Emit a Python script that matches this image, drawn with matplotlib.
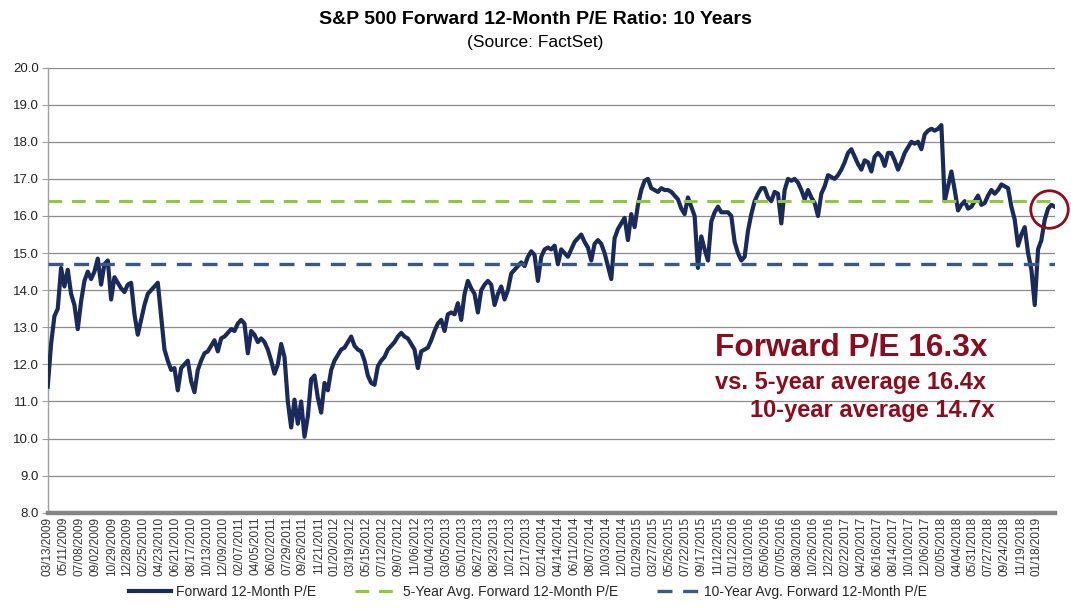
import numpy as np
import matplotlib.pyplot as plt
from matplotlib.transforms import offset_copy

plt.rcParams['font.family'] = ['Liberation Sans', 'DejaVu Sans']

# x-axis category labels, one every 40 trading days
tick_labels = [
    "03/13/2009", "05/11/2009", "07/08/2009", "09/02/2009", "10/29/2009", "12/28/2009",
    "02/25/2010", "04/23/2010", "06/21/2010", "08/17/2010", "10/13/2010", "12/09/2010",
    "02/07/2011", "04/05/2011", "06/02/2011", "07/29/2011", "09/26/2011", "11/21/2011",
    "01/20/2012", "03/19/2012", "05/15/2012", "07/12/2012", "09/07/2012", "11/06/2012",
    "01/04/2013", "03/05/2013", "05/01/2013", "06/27/2013", "08/23/2013", "10/21/2013",
    "12/17/2013", "02/14/2014", "04/14/2014", "06/11/2014", "08/07/2014", "10/03/2014",
    "12/01/2014", "01/29/2015", "03/27/2015", "05/26/2015", "07/22/2015", "09/17/2015",
    "11/12/2015", "01/12/2016", "03/10/2016", "05/06/2016", "07/05/2016", "08/30/2016",
    "10/26/2016", "12/22/2016", "02/22/2017", "04/20/2017", "06/16/2017", "08/14/2017",
    "10/10/2017", "12/06/2017", "02/05/2018", "04/04/2018", "05/31/2018", "07/27/2018",
    "09/24/2018", "11/19/2018", "01/18/2019",
]
days_per_tick = 40
n_days = 2526

avg_5yr = 16.4
avg_10yr = 14.7

# forward 12-month P/E at even steps (about 8 trading days)
pe = [
    # 2009 - 2010
    11.4, 12.55, 13.3, 13.5, 14.6, 14.1, 14.55, 13.9, 13.6, 12.95,
    13.7, 14.25, 14.5, 14.3, 14.5, 14.85, 14.15, 14.7, 14.8, 13.75,
    14.35, 14.2, 14.05, 13.95, 14.15, 14.2, 13.35, 12.8, 13.2, 13.6,
    13.9, 14.0, 14.1, 14.2, 13.3, 12.4, 12.1, 11.85, 11.9, 11.3,
    11.9, 12.0, 12.1, 11.55, 11.25, 11.85, 12.1, 12.3, 12.35, 12.5,
    12.65, 12.35, 12.7, 12.75, 12.85, 12.95, 12.9, 13.1, 13.2, 13.1,
    # 2011 - 2012
    12.3, 12.9, 12.8, 12.6, 12.7, 12.6, 12.4, 12.1, 11.75, 12.0,
    12.55, 12.2, 11.0, 10.3, 11.05, 10.4, 11.0, 10.05, 10.6, 11.6,
    11.7, 11.1, 10.7, 11.5, 11.3, 11.85, 12.1, 12.25, 12.4, 12.45,
    12.6, 12.75, 12.5, 12.4, 12.35, 12.1, 11.7, 11.5, 11.45, 11.95,
    12.1, 12.2, 12.4, 12.5, 12.6, 12.75, 12.85, 12.75, 12.7, 12.55,
    12.4, 11.9, 12.35, 12.4, 12.45, 12.65, 12.9, 13.1, 13.2, 12.9,
    # 2013 - 2014
    13.35, 13.4, 13.35, 13.65, 13.2, 13.9, 14.25, 14.05, 13.9, 13.4,
    14.0, 14.15, 14.25, 14.15, 13.6, 13.9, 14.1, 13.75, 14.0, 14.45,
    14.55, 14.65, 14.75, 14.65, 14.9, 15.05, 14.95, 14.25, 14.9, 15.1,
    15.15, 15.1, 15.2, 14.7, 15.1, 15.0, 14.9, 15.1, 15.3, 15.4,
    15.5, 15.3, 15.15, 14.8, 15.25, 15.35, 15.25, 15.0, 14.65, 14.3,
    15.4, 15.65, 15.8, 15.95, 15.35, 16.05, 15.7, 16.3, 16.7, 16.95,
    # 2015 - 2016
    17.0, 16.75, 16.7, 16.65, 16.75, 16.7, 16.7, 16.65, 16.55, 16.45,
    16.2, 16.05, 16.5, 16.25, 16.0, 14.6, 15.45, 15.1, 14.8, 15.85,
    16.1, 16.25, 16.1, 16.1, 16.1, 16.0, 15.3, 15.0, 14.8, 14.9,
    15.6, 16.05, 16.4, 16.6, 16.75, 16.75, 16.5, 16.4, 16.65, 16.6,
    15.8, 16.7, 17.0, 16.95, 17.0, 16.9, 16.7, 16.45, 16.7, 16.5,
    16.35, 16.0, 16.6, 16.8, 17.1, 17.05, 17.0, 17.1, 17.25, 17.45,
    # 2017 - 2019
    17.7, 17.8, 17.6, 17.4, 17.25, 17.5, 17.45, 17.2, 17.6, 17.7,
    17.6, 17.35, 17.7, 17.7, 17.5, 17.25, 17.45, 17.7, 17.85, 18.0,
    17.95, 18.0, 17.8, 18.2, 18.3, 18.35, 18.3, 18.35, 18.45, 16.4,
    16.8, 17.2, 16.7, 16.15, 16.3, 16.4, 16.2, 16.25, 16.4, 16.55,
    16.3, 16.35, 16.55, 16.7, 16.6, 16.7, 16.85, 16.8, 16.75, 16.25,
    15.9, 15.2, 15.5, 15.7, 15.0, 14.55, 13.6, 15.1, 15.35, 15.9,
    16.2, 16.3, 16.25,
]

navy = "#1A2A5A"
green = "#92C83E"
blue = "#375A8C"
maroon = "#8B0D1F"
grid_gray = "#8C8C8C"

fig = plt.figure(figsize=(10.71, 6.09), dpi=100)
ax = fig.add_axes([0.0444, 0.158, 0.9406, 0.731])

x = np.linspace(0, n_days - 1, len(pe))
ax.plot(x, pe, color=navy, lw=3.0, label="Forward 12-Month P/E", zorder=3)
ax.axhline(avg_5yr, color=green, lw=2.2, dashes=(4.5, 3.2),
           label="5-Year Avg. Forward 12-Month P/E", zorder=4)
ax.axhline(avg_10yr, color=blue, lw=2.4, dashes=(4.5, 3.2),
           label="10-Year Avg. Forward 12-Month P/E", zorder=4)

ax.set_xlim(-0.5, n_days - 0.5)
ax.set_ylim(8, 20)
ax.set_yticks(np.arange(8, 20.5, 1))
ax.set_yticklabels([f"{v:.1f}" for v in np.arange(8, 20.5, 1)])
ax.set_xticks(np.arange(len(tick_labels)) * days_per_tick)
ax.set_xticklabels(tick_labels, rotation=90, fontsize=8.5, color="#333333")

ax.grid(axis="y", color=grid_gray, lw=0.9)
ax.set_axisbelow(True)
for s in ["top", "right"]:
    ax.spines[s].set_visible(False)
ax.spines["left"].set_color("#A0A0A0")
ax.spines["left"].set_linewidth(1)
ax.spines["bottom"].set_color("#858585")
ax.spines["bottom"].set_linewidth(3.2)
ax.spines["bottom"].set_zorder(5)
ax.tick_params(axis="y", length=4, width=0.8, color="#A0A0A0", pad=2,
               labelsize=9.5, labelcolor="#222222")
ax.tick_params(axis="x", length=0, pad=3)

# highlight the latest reading
circ = offset_copy(ax.transData, fig=fig, x=-6, y=-2, units="dots")
ax.plot(x[-1], pe[-1], marker="o", ms=27, mfc="none", mec=maroon, mew=2,
        transform=circ, zorder=6, clip_on=False)

fig.text(0.4995, 1 - 19 / 609, "S&P 500 Forward 12-Month P/E Ratio: 10 Years",
         ha="center", va="center", fontsize=14, fontweight="bold")
fig.text(0.4995, 1 - 42 / 609, "(Source: FactSet)",
         ha="center", va="center", fontsize=12.5)

fig.text(715 / 1071, 1 - 347 / 609, "Forward P/E 16.3x", color=maroon,
         fontsize=22.8, fontweight="bold", ha="left", va="center")
fig.text(715 / 1071, 1 - 382 / 609, "vs. 5-year average 16.4x", color=maroon,
         fontsize=17, fontweight="bold", ha="left", va="center")
fig.text(750 / 1071, 1 - 410 / 609, "10-year average 14.7x", color=maroon,
         fontsize=17, fontweight="bold", ha="left", va="center")

fig.legend(loc="center", bbox_to_anchor=(0.493, 1 - 592 / 609), ncol=3,
           frameon=False, fontsize=10, handlelength=3, columnspacing=2.8,
           handletextpad=0.4, labelcolor="#262626")

fig.savefig("out.png", dpi=100)
